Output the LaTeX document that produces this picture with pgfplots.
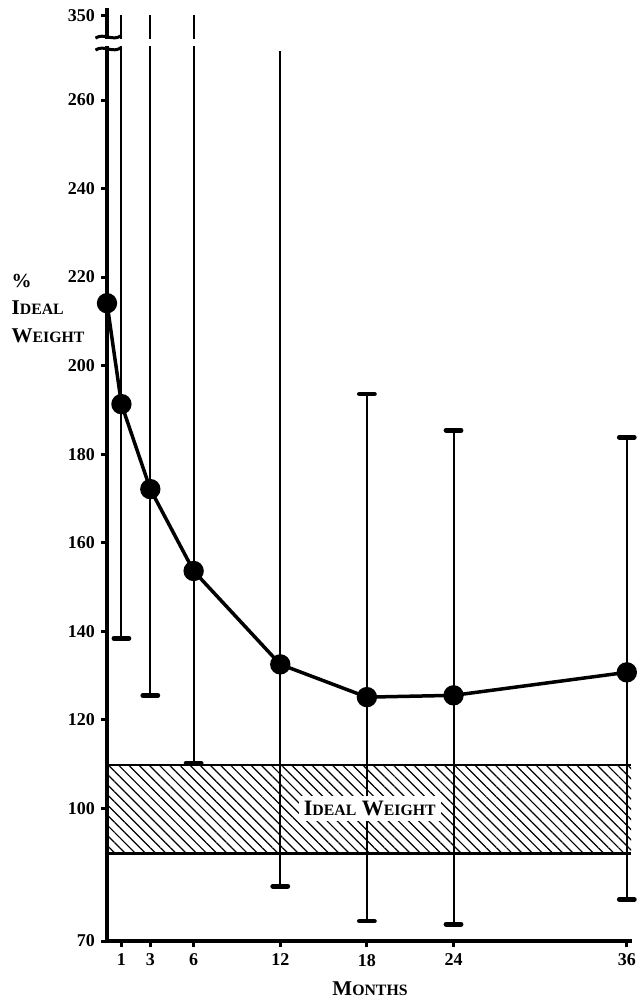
\documentclass[border=0pt]{standalone}
\usepackage{fontspec}
\setmainfont{Liberation Serif}
\usepackage{pgfplots}
\pgfplotsset{compat=1.18}
\usepackage{pgfplotstable}
\usetikzlibrary{patterns.meta}

% faux small caps
\newcommand{\smc}[1]{{\fontsize{7.9}{9}\selectfont #1}}

% mean % ideal weight per month
\pgfplotstableread{
x y
0 214.1
1 191.3
3 172.1
6 153.6
12 132.5
18 125.1
24 125.5
36 130.7
}\means

% range bars (values above the break are on the compressed scale, 279 = 350)
\pgfplotstableread{
x lo hi
1 138.4 279.2
3 125.5 279.2
6 110.2 279.2
12 82.4 271.0
18 74.5 193.6
24 73.8 185.4
36 79.4 183.8
}\bars

\pgfplotstableread{
x hi
18 193.6
24 185.4
36 183.8
}\caps

\begin{document}
\begin{tikzpicture}
\useasboundingbox (-53.5pt,-31pt) rectangle (266pt,470.5pt);
\begin{axis}[
    at={(0,0)}, anchor=south west,
    scale only axis,
    width=262.5pt,
    height=466.5pt,
    xmin=0, xmax=36.36,
    ymin=70, ymax=280.8,
    enlargelimits=false,
    clip=false,
    axis lines=left,
    axis line style={-, line width=1.75pt},
    xtick={1,3,6,12,18,24,36},
    ytick={70,100,120,140,160,180,200,220,240,260,279},
    yticklabels={70,100,120,140,160,180,200,220,240,260,350},
    major tick length=3pt,
    tick align=outside,
    tick style={line width=1.5pt, black},
    /pgf/number format/assume math mode=true,
    tick label style={font=\fontsize{9}{10}\selectfont\bfseries},
    yticklabel style={xshift=0.5pt},
]

% ideal weight band
\addplot[draw=none, pattern={Lines[angle=-45, distance=3.6pt, line width=0.6pt]}]
  coordinates {(0,89.8) (36.3,89.8) (36.3,109.8) (0,109.8) (0,89.8)};
\addplot[line width=1.2pt] coordinates {(0,109.8) (36.3,109.8)};
\addplot[line width=1.2pt] coordinates {(0,89.8) (36.3,89.8)};

% range bars
\addplot[draw=none, mark=none,
  error bars/.cd, y dir=plus, y explicit, error mark=none,
  error bar style={line width=1pt, black}]
  table[x=x, y=lo, y error expr=\thisrow{hi}-\thisrow{lo}] {\bars};
\addplot[only marks, mark=-, mark size=3.75pt,
  mark options={line width=2.4pt, line cap=round}] table[x=x, y=lo] {\bars};
\addplot[only marks, mark=-, mark size=3.75pt,
  mark options={line width=2.4pt, line cap=round}] table[x=x, y=hi] {\caps};

% axis break
\fill[white] (axis cs:-1,272.3) rectangle (axis cs:36.5,273.8);
\draw[line width=1.5pt] (axis cs:-0.8,274.0) .. controls (axis cs:-0.2,275.3) and (axis cs:0.4,273.1) .. (axis cs:1.0,274.6);
\draw[line width=1.5pt] (axis cs:-0.8,271.3) .. controls (axis cs:-0.2,272.6) and (axis cs:0.4,270.4) .. (axis cs:1.0,271.9);

% means
\addplot[line width=1.75pt, mark=*, mark size=4.2pt, mark options={fill=black}]
  table[x=x, y=y] {\means};

\node[fill=white, inner sep=2.5pt, font=\fontsize{11}{12}\selectfont\bfseries]
  at (axis cs:18.2,100) {I\smc{DEAL} W\smc{EIGHT}};

\node[anchor=base west, font=\fontsize{10}{12}\selectfont\bfseries]
  at (rel axis cs:-0.195,0.700) {\%};
\node[anchor=base west, font=\fontsize{10.5}{12}\selectfont\bfseries]
  at (rel axis cs:-0.195,0.672) {I\smc{DEAL}};
\node[anchor=base west, font=\fontsize{10.5}{12}\selectfont\bfseries]
  at (rel axis cs:-0.195,0.642) {W\smc{EIGHT}};
\node[anchor=base, font=\fontsize{10.5}{12}\selectfont\bfseries]
  at (rel axis cs:0.501,-0.058) {M\smc{ONTHS}};
\end{axis}
\end{tikzpicture}
\end{document}
